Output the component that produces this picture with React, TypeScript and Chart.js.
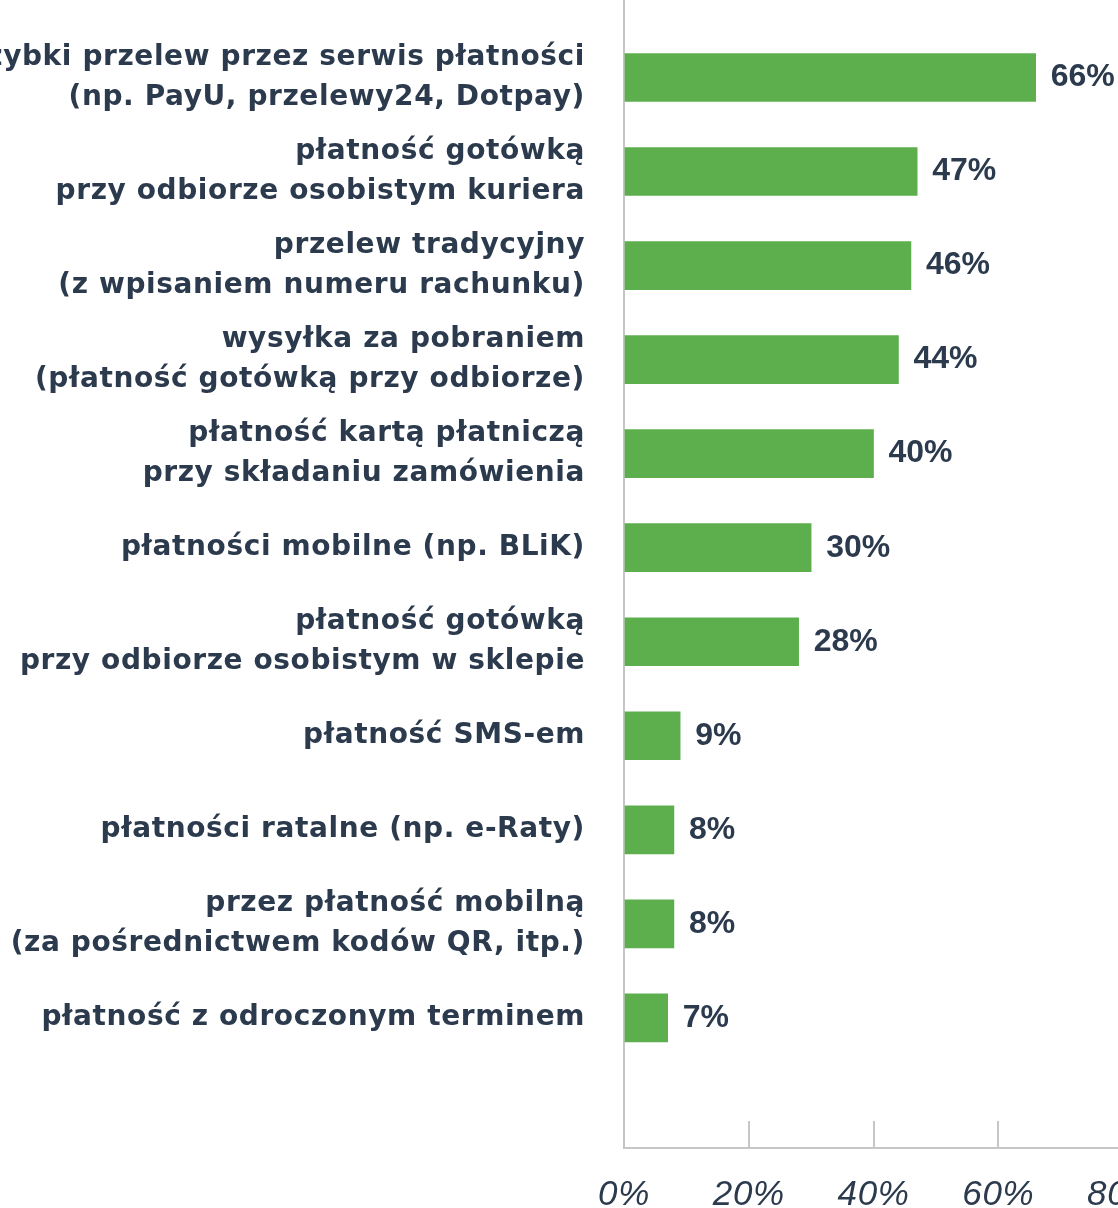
import React, { useEffect, useRef } from "react";
import { Chart, registerables } from "chart.js";

Chart.register(...registerables);

const categories: string[][] = [
  ["szybki przelew przez serwis płatności", "(np. PayU, przelewy24, Dotpay)"],
  ["płatność gotówką", "przy odbiorze osobistym kuriera"],
  ["przelew tradycyjny", "(z wpisaniem numeru rachunku)"],
  ["wysyłka za pobraniem", "(płatność gotówką przy odbiorze)"],
  ["płatność kartą płatniczą", "przy składaniu zamówienia"],
  ["płatności mobilne (np. BLiK)"],
  ["płatność gotówką", "przy odbiorze osobistym w sklepie"],
  ["płatność SMS-em"],
  ["płatności ratalne (np. e-Raty)"],
  ["przez płatność mobilną", "(za pośrednictwem kodów QR, itp.)"],
  ["płatność z odroczonym terminem"],
];

const values: number[] = [66, 47, 46, 44, 40, 30, 28, 9, 8, 8, 7];

const xTicks: number[] = [0, 20, 40, 60, 80];

const NAVY = "rgb(44,58,77)";
const GREEN = "rgb(93,175,78)";
const GRAY = "rgb(198,198,198)";

const spacing = {
  id: "spacing",
  beforeUpdate(chart: any) {
    chart.ctx.letterSpacing = "0.6px";
  },
  beforeDraw(chart: any) {
    chart.ctx.letterSpacing = "0.6px";
  },
};

const valueLabels = {
  id: "valueLabels",
  afterDatasetsDraw(chart: any) {
    const ctx = chart.ctx;
    const meta = chart.getDatasetMeta(0);
    ctx.save();
    ctx.letterSpacing = "0px";
    ctx.font = "bold 32px 'Liberation Sans', Arial, sans-serif";
    ctx.fillStyle = NAVY;
    ctx.textAlign = "left";
    ctx.textBaseline = "middle";
    meta.data.forEach((bar: any, i: number) => {
      ctx.fillText(values[i] + "%", bar.x + 15, bar.y);
    });
    ctx.restore();
  },
};

export default function App() {
  const ref = useRef<HTMLCanvasElement | null>(null);

  useEffect(() => {
    if (!ref.current) return;
    const chart = new Chart(ref.current, {
      type: "bar",
      data: {
        datasets: [
          {
            data: values.map((v, i) => ({ x: v, y: i })),
            backgroundColor: GREEN,
            borderWidth: 0,
            barThickness: 48,
          },
        ],
      },
      options: {
        indexAxis: "y",
        animation: false,
        responsive: false,
        maintainAspectRatio: false,
        layout: { padding: { top: 30, right: 60, bottom: 0, left: 0 } },
        plugins: {
          legend: { display: false },
          tooltip: { enabled: false },
          title: { display: false },
        },
        scales: {
          y: {
            type: "linear",
            reverse: true,
            min: -0.93,
            max: 11.383,
            bounds: "data",
            offset: false,
            afterBuildTicks: (scale: any) => {
              scale.ticks = categories.map((_, i) => ({ value: i }));
            },
            afterFit: (scale: any) => {
              scale.width = 644;
              scale.paddingTop = 0;
              scale.paddingBottom = 0;
            },
            ticks: {
              autoSkip: false,
              padding: 39,
              color: NAVY,
              font: {
                family: "'DejaVu Sans', sans-serif",
                size: 28,
                weight: "bold",
                lineHeight: 40 / 28,
              },
              callback: (v: any) => categories[Math.round(Number(v))] ?? "",
            },
            grid: { display: false, drawTicks: false, offset: false },
            border: { display: true, color: GRAY, width: 2 },
          },
          x: {
            type: "linear",
            min: 0,
            max: 80,
            afterBuildTicks: (scale: any) => {
              scale.ticks = xTicks.map((v) => ({ value: v }));
            },
            afterFit: (scale: any) => {
              scale.height = 72;
              scale.paddingLeft = 0;
              scale.paddingRight = 0;
            },
            ticks: {
              padding: 53,
              color: NAVY,
              font: {
                family: "'Liberation Sans', Arial, sans-serif",
                size: 35,
                style: "italic",
              },
              callback: (v: any) => v + "%",
            },
            grid: {
              drawOnChartArea: false,
              drawTicks: true,
              tickLength: -27,
              color: GRAY,
              lineWidth: 2,
            },
            border: { display: true, color: GRAY, width: 2 },
          },
        },
      } as any,
      plugins: [spacing, valueLabels],
    });
    return () => chart.destroy();
  }, []);

  return (
    <div style={{ position: "absolute", left: -20, top: -40, width: 1203, height: 1260 }}>
      <canvas ref={ref} width={1203} height={1260} style={{ width: 1203, height: 1260 }} />
    </div>
  );
}
